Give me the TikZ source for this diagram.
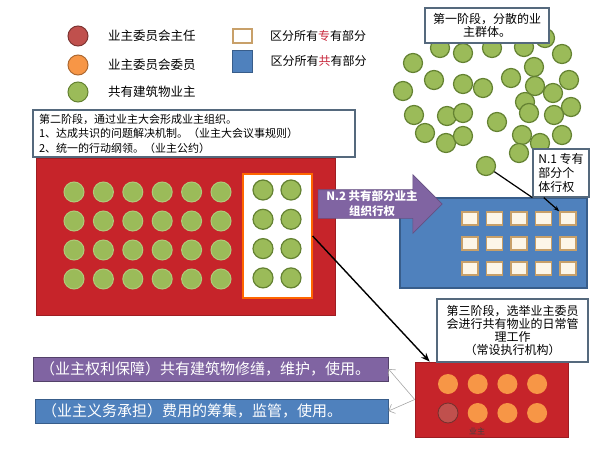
\documentclass[tikz,border=0pt]{standalone}
\usepackage{fontspec}
\setmainfont{Noto Sans CJK SC}
\usetikzlibrary{positioning,arrows.meta,shapes.arrows}

\definecolor{ownergreen}{RGB}{155,187,89}
\definecolor{ownergreenedge}{RGB}{100,130,50}
\definecolor{chairred}{RGB}{192,80,77}
\definecolor{memberorange}{RGB}{247,150,70}
\definecolor{panelred}{RGB}{198,36,42}
\definecolor{sharedblue}{RGB}{79,129,189}
\definecolor{sharedblueedge}{RGB}{56,93,138}
\definecolor{rightpurple}{RGB}{128,100,162}
\definecolor{unitcream}{RGB}{253,246,232}
\definecolor{unitedge}{RGB}{200,160,105}
\definecolor{boxedge}{RGB}{85,105,125}
\definecolor{keyred}{RGB}{200,40,60}

\begin{document}
\begin{tikzpicture}[x=1pt,y=-1pt,
	owner/.style={circle,fill=ownergreen,draw=ownergreenedge,line width=1.2,minimum size=19,inner sep=0},
	paleowner/.style={circle,fill=ownergreen,draw=ownergreen!80!white,line width=1,minimum size=20,inner sep=0},
	member/.style={circle,fill=memberorange,minimum size=20,inner sep=0},
	unit/.style={fill=unitcream,draw=unitedge,line width=1.4,minimum width=16,minimum height=13,inner sep=0},
	notebox/.style={fill=white,draw=boxedge,line width=1.2,inner sep=3},
	redpanel/.style={fill=panelred,draw=panelred!80!black,line width=0.6},
	legendfont/.style={font=\fontsize{12.5}{14}\selectfont}
	]
	\useasboundingbox (0,0) rectangle (600,450);

	%legend
	\node (lgchair) at (78,36) [circle,fill=chairred,draw=chairred!65!black,line width=1,minimum size=20,inner sep=0] {};
	\node (lgmember) at (78,65) [circle,fill=memberorange,draw=memberorange!70!black,line width=1,minimum size=20,inner sep=0] {};
	\node (lgowner) at (78,92) [circle,fill=ownergreen,draw=ownergreenedge,line width=1,minimum size=20,inner sep=0] {};
	\node[legendfont] (lgchairtext) [right=16 of lgchair] {业主委员会主任};
	\node[legendfont] (lgmembertext) [right=16 of lgmember] {业主委员会委员};
	\node[legendfont] (lgownertext) [right=16 of lgowner] {共有建筑物业主};

	\node (lgprivate) at (242.5,36) [fill=white,draw=unitedge,line width=1.4,minimum width=19,minimum height=14,inner sep=0] {};
	\node (lgshared) at (242.5,61) [fill=sharedblue,draw=sharedblueedge,line width=1,minimum width=20,minimum height=22,inner sep=0] {};
	\node[font=\fontsize{12}{14}\selectfont] (lgprivatetext) [right=14 of lgprivate] {区分所有\textcolor{keyred}{专}有部分};
	\node[font=\fontsize{12}{14}\selectfont] (lgsharedtext) [right=14 of lgshared] {区分所有\textcolor{keyred}{共}有部分};

	%first stage
	\foreach \px/\py [count=\k] in {440/48,463/53,492/48,524/47,545/38,562/54,
		413/63,434/80,463/84,483/88,511/78,534/67,569/80,535/86,553/93,
		403/91,525/102,571/107,414/115,447/116,463/113,497/122,529/113,554/115,
		425/133,446/143,463/136,522/135,540/143,562/135,519/153,486/166}
		\node[owner] (loose\k) at (\px,\py) {};
	\node[notebox,minimum width=124,minimum height=35,align=center,font=\fontsize{12}{13}\selectfont] (stage1) at (487,25.5) {第一阶段，分散的业\\主群体。};

	%second stage
	\node[redpanel,minimum width=299,minimum height=157] (stage2panel) at (185.5,236.5) {};
	\foreach \i in {0,...,5}
		\foreach \j in {0,...,3}
			\node[paleowner] (g-\i-\j) at (74+29.4*\i,192+29*\j) {};
	\node[fill=white,draw=orange!80!red,line width=1.2,minimum width=69,minimum height=124] (commonbox) at (277.5,236) {};
	\foreach \i in {0,1}
		\foreach \j in {0,...,3}
			\node[owner,minimum size=20] (c-\i-\j) at (263+28*\i,190+29.3*\j) {};
	\node[notebox,minimum width=322,minimum height=47,text width=310,align=left,font=\fontsize{11}{14.5}\selectfont] (stage2) at (194,133.5) {第二阶段，通过业主大会形成业主组织。\\1、达成共识的问题解决机制。（业主大会议事规则）\\2、统一的行动纲领。（业主公约）};

	%shared part
	\node[fill=sharedblue,draw=sharedblueedge,line width=1.2,minimum width=187,minimum height=90] (sharedpanel) at (493.5,243) {};
	\foreach \i in {1,...,5}
		\foreach \j in {1,2,3}
			\node[unit] (unit-\j-\i) at (445.5+24.5*\i,193.5+25*\j) {};
	\node[single arrow,fill=rightpurple,draw=rightpurple!80!black,line width=0.6,minimum height=124,minimum width=58,single arrow head extend=15,single arrow tip angle=90,inner xsep=0,inner ysep=14] (n2arrow) at (373,204) {};
	\node[text=white,align=center,font=\bfseries\fontsize{11.5}{15}\selectfont] (n2text) at (372,204) {N.2 共有部分业主\\组织行权};
	\node[notebox,minimum width=56,minimum height=48,align=left,font=\fontsize{12}{14}\selectfont] (n1) at (561,173) {N.1 专有\\部分个\\体行权};
	\draw[line width=1.2] (loose32) -- (n1.south west);
	\draw[line width=1.2,-{Stealth[length=6pt]}] (n1.235) -- (unit-1-5.north west);

	%third stage
	\node[redpanel,minimum width=153,minimum height=75] (stage3panel) at (491.5,399.5) {};
	\foreach \i in {0,...,3}
		\node[member] (m-\i-0) at (448+29.7*\i,384) {};
	\foreach \i in {1,2,3}
		\node[member] (m-\i-1) at (448+29.7*\i,413) {};
	\node[circle,fill=chairred,draw=chairred!60!black,line width=0.8,minimum size=20,inner sep=0] (chair) at (448,413) {};
	\node[text=black!75,font=\fontsize{8}{9}\selectfont] (ownerhint) at (477,431) {业主};
	\node[notebox,minimum width=151,minimum height=63,align=center,font=\fontsize{12}{12.7}\selectfont] (stage3) at (512.5,330.5) {第三阶段，选举业主委员\\会进行共有物业的日常管\\理工作\\（常设执行机构）};
	\draw[line width=1.4,-{Stealth[length=9pt]}] (commonbox.east) -- ([xshift=15]stage3panel.north west);

	%rights and duties
	\node[fill=rightpurple,draw=rightpurple!65!black,line width=1,minimum height=24,text width=341,inner xsep=7,align=left,text=white,font=\fontsize{15}{16}\selectfont] (rightsbar) at (210.5,369) {（业主权利保障）共有建筑物修缮，维护，使用。};
	\node[fill=sharedblue,draw=sharedblueedge,line width=1,minimum height=24,text width=339,inner xsep=7,align=left,text=white,font=\fontsize{15}{16}\selectfont] (dutiesbar) at (211.5,411) {（业主义务承担）费用的筹集，监管，使用。};
	\draw[gray!70,line width=0.6,-{Straight Barb[length=5pt]}] (stage3panel.west) -- (rightsbar.east);
	\draw[gray!70,line width=0.6,-{Straight Barb[length=5pt]}] (stage3panel.west) -- (dutiesbar.east);
\end{tikzpicture}
\end{document}
